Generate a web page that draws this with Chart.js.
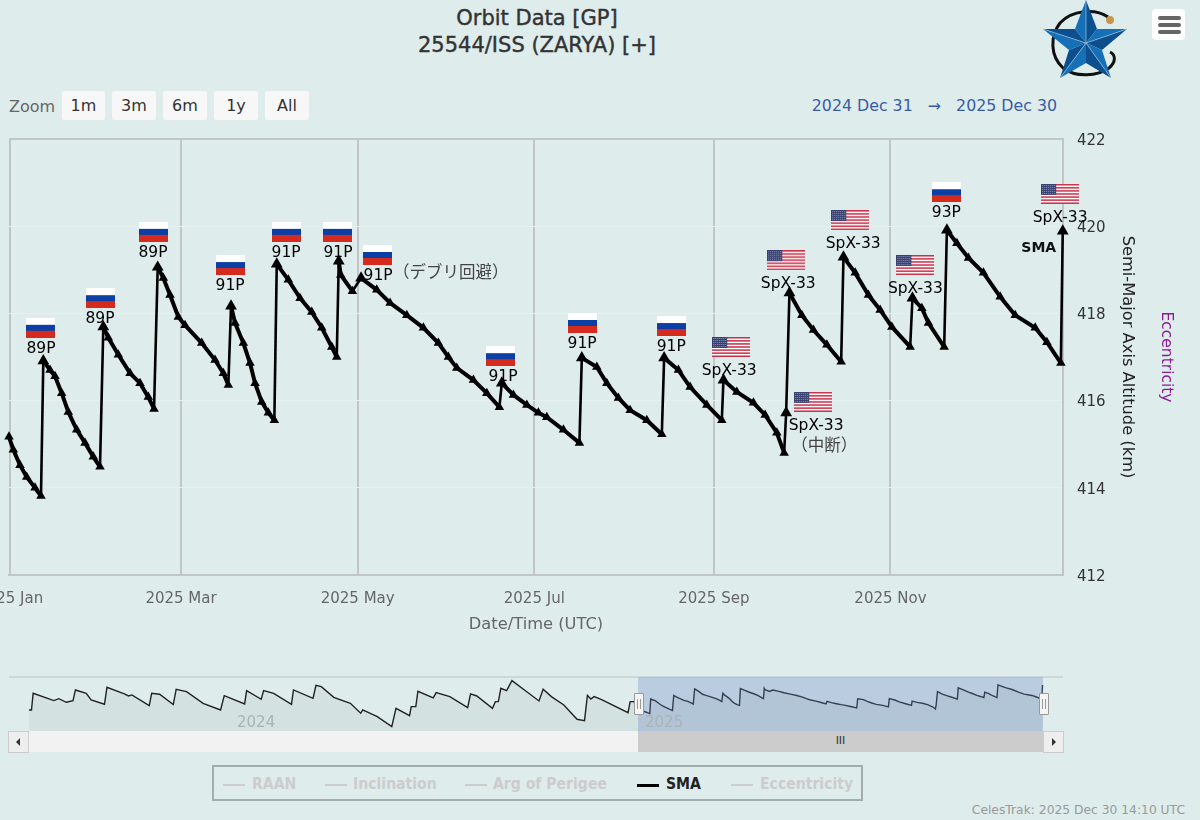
<!DOCTYPE html>
<html>
<head>
<meta charset="utf-8">
<title>Orbit Data</title>
<script src="https://cdn.jsdelivr.net/npm/chart.js@4/dist/chart.umd.min.js"></script>
<style>
  html, body { margin: 0; padding: 0; background: #deecec; }
  body { position: relative; width: 1200px; height: 820px; overflow: hidden; font-family: "DejaVu Sans", sans-serif; }
  .abs { position: absolute; }
  canvas { position: absolute; display: block; }
  #titleBox { left: 237px; width: 600px; top: 5px; text-align: center; color: #333; font-size: 21px; line-height: 27px; -webkit-text-stroke: 0.4px #333; }
  #zoomLabel { left: 9px; top: 97px; color: #666; font-size: 16px; }
  .btn { position: absolute; top: 91px; height: 29px; line-height: 29px; background: #f7f7f7; border-radius: 2px; text-align: center; color: #333; font-size: 16px; }
  #range { right: 143px; top: 96px; color: #3a5ba6; font-size: 15.8px; white-space: pre; }
  #menu { left: 1152px; top: 9px; width: 33px; height: 31px; background: #fff; border-radius: 4px; }
  #menu i { position: absolute; left: 6px; width: 23px; height: 4px; background: #666; border-radius: 2px; }
  .navyear { position: absolute; top: 713px; color: #a9b4b6; font-size: 15px; }
  #navTop { left: 9px; top: 676px; width: 1054px; height: 2px; background: #cdd8d8; }
  #navMask { left: 638px; top: 677px; width: 405px; height: 54px; background: rgba(102,133,194,0.3); }
  .handle { position: absolute; top: 693px; width: 8px; height: 20px; background: #f4f4f4; border: 1px solid #999; border-radius: 1px; }
  .handle i { position: absolute; top: 5px; width: 1px; height: 10px; background: #999; }
  #scrollTrack { left: 28px; top: 731px; width: 610px; height: 21px; background: #f2f2f2; }
  #scrollThumb { left: 638px; top: 731px; width: 405px; height: 21px; background: #cccccc; text-align: center; line-height: 20px; font-size: 11px; color: #333; }
  .scrollBtn { position: absolute; top: 731px; width: 19px; height: 20px; background: #eeeeee; border: 1px solid #ccc; }
  .scrollBtn i { position: absolute; top: 6px; width: 0; height: 0; border-top: 4px solid transparent; border-bottom: 4px solid transparent; }
  #legendBox { left: 212px; top: 765px; width: 647px; height: 32px; border: 2px solid #a3adad; }
  .lgLine { position: absolute; top: 784px; width: 22px; height: 2px; background: #cccccc; }
  .lgText { position: absolute; top: 775px; color: #cccccc; font-size: 15.6px; font-weight: bold; font-family: "DejaVu Sans Condensed", "DejaVu Sans", sans-serif; white-space: pre; }
  #credit { right: 15px; top: 803px; color: #999; font-size: 12.3px; }
</style>
</head>
<body>
<div id="titleBox" class="abs">Orbit Data [GP]<br>25544/ISS (ZARYA) [+]</div>

<svg class="abs" style="left:1040px;top:0" width="92" height="82" viewBox="1040 0 92 82">
  <path d="M1108 17 C1095 8 1072 10 1060 23 C1050 36 1050 56 1063 68 C1076 78 1098 76 1109 68 C1116 62 1116 55 1110 52" fill="none" stroke="#111" stroke-width="3"/>
  <circle cx="1110" cy="20" r="4" fill="#c9964f"/>
  <polygon points="1086,0 1086,43 1075,29" fill="#1670b8"/><polygon points="1086,0 1086,43 1097,29" fill="#0b4f8f"/>
  <polygon points="1127,29 1086,43 1097,29" fill="#1670b8"/><polygon points="1127,29 1086,43 1102,50" fill="#0b4f8f"/>
  <polygon points="1111,78 1086,43 1102,50" fill="#1670b8"/><polygon points="1111,78 1086,43 1086,63" fill="#0b4f8f"/>
  <polygon points="1060,78 1086,43 1086,63" fill="#1670b8"/><polygon points="1060,78 1086,43 1069,50" fill="#0b4f8f"/>
  <polygon points="1043,29 1086,43 1069,50" fill="#1670b8"/><polygon points="1043,29 1086,43 1075,29" fill="#0b4f8f"/>
  <path d="M1086 43 L1127 29 M1086 43 L1111 78 M1086 43 L1060 78 M1086 43 L1043 29 M1086 43 L1086 0" stroke="#9cc3de" stroke-width="0.7"/>
</svg>
<div id="menu" class="abs"><i style="top:7px"></i><i style="top:14px"></i><i style="top:21px"></i></div>

<div id="zoomLabel" class="abs">Zoom</div>
<div class="btn" style="left:62px;width:43px">1m</div>
<div class="btn" style="left:112px;width:44px">3m</div>
<div class="btn" style="left:163px;width:44px">6m</div>
<div class="btn" style="left:214px;width:44px">1y</div>
<div class="btn" style="left:265px;width:44px">All</div>
<div id="range" class="abs">2024 Dec 31   →   2025 Dec 30</div>

<canvas id="mainChart" width="1200" height="640" style="left:0;top:0"></canvas>

<div id="navTop" class="abs"></div>
<canvas id="navChart" width="1054" height="54" style="left:9px;top:677px"></canvas>
<div id="navMask" class="abs"></div>
<div class="navyear" style="left:237px">2024</div>
<div class="navyear" style="left:645px">2025</div>
<div class="handle" style="left:634px"><i style="left:2px"></i><i style="left:5px"></i></div>
<div class="handle" style="left:1039px"><i style="left:2px"></i><i style="left:5px"></i></div>
<div id="scrollTrack" class="abs"></div>
<div id="scrollThumb" class="abs">III</div>
<div class="scrollBtn" style="left:8px"><i style="left:7px;border-right:4px solid #333"></i></div>
<div class="scrollBtn" style="left:1043px"><i style="left:8px;border-left:4px solid #333"></i></div>

<div id="legendBox" class="abs"></div>
<div class="lgLine" style="left:223px"></div><div class="lgText" style="left:252px">RAAN</div>
<div class="lgLine" style="left:325px"></div><div class="lgText" style="left:353px">Inclination</div>
<div class="lgLine" style="left:465px"></div><div class="lgText" style="left:493px">Arg of Perigee</div>
<div class="lgLine" style="left:637px;background:#000;height:3px"></div><div class="lgText" style="left:666px;color:#222">SMA</div>
<div class="lgLine" style="left:731px"></div><div class="lgText" style="left:760px">Eccentricity</div>
<div id="credit" class="abs">CelesTrak: 2025 Dec 30 14:10 UTC</div>

<script>
// days since 2025 Jan 1 / SMA altitude in km
var smaDays = [-0.41, 1.08, 3.39, 5.7, 8.57, 10.64, 11.44, 13.75, 15.48, 17.79, 20.07, 22.97, 25.84, 28.71, 31.02, 32.16, 33.89, 37.34, 41.39, 44.84, 47.71, 49.68, 50.95, 52.89, 55.2, 58.07, 60.38, 66.15, 70.75, 73.61, 75.34, 76.27, 77.65, 80.52, 82.83, 84.56, 86.88, 89.16, 91.23, 92.06, 96.06, 100.11, 104.15, 107.6, 111.06, 112.78, 113.47, 114.17, 118.17, 121.18, 126.6, 131.2, 136.96, 142.7, 147.88, 151.33, 154.23, 159.97, 164.6, 168.95, 169.78, 173.79, 178.42, 182.42, 185.32, 191.06, 196.58, 197.41, 202.59, 206.04, 210.05, 214.09, 219.86, 225.04, 225.84, 230.77, 234.82, 240.58, 245.76, 246.32, 250.95, 256.68, 260.72, 264.76, 267.29, 267.98, 269.12, 273.4, 277.41, 282.04, 286.98, 287.77, 291.82, 296.4, 300.45, 304.49, 310.81, 311.6, 314.85, 317.13, 322.56, 323.49, 326.94, 330.95, 336.12, 341.89, 347.08, 353.99, 358.03, 362.86, 363.5];
var smaKm = [415.17, 414.87, 414.52, 414.25, 414, 413.81, 416.91, 416.7, 416.56, 416.17, 415.74, 415.33, 415.03, 414.71, 414.48, 417.69, 417.44, 417.05, 416.63, 416.4, 416.08, 415.81, 419.06, 418.81, 418.42, 417.92, 417.73, 417.32, 416.93, 416.63, 416.36, 418.17, 417.78, 417.32, 416.86, 416.4, 415.97, 415.72, 415.55, 419.13, 418.77, 418.35, 418.03, 417.67, 417.23, 417, 419.2, 418.88, 418.51, 418.81, 418.54, 418.24, 417.96, 417.67, 417.32, 417, 416.75, 416.47, 416.17, 415.85, 416.4, 416.13, 415.9, 415.72, 415.62, 415.33, 415.03, 416.98, 416.77, 416.4, 416.06, 415.78, 415.55, 415.23, 416.98, 416.7, 416.31, 415.9, 415.55, 416.47, 416.2, 415.95, 415.67, 415.26, 414.8, 415.72, 418.47, 417.96, 417.62, 417.28, 416.89, 419.29, 418.93, 418.42, 418.08, 417.69, 417.23, 418.35, 418.12, 417.78, 417.23, 419.91, 419.61, 419.27, 418.93, 418.38, 417.96, 417.67, 417.34, 416.86, 419.89];

// older part of the navigator series, before 2025
var historyDays = [-547.1, -544.9, -543.4, -524.8, -520.3, -513.6, -507.6, -505.4, -495.7, -491.3, -479.3, -477.1, -461.5, -457.7, -454.7, -439.1, -436.9, -429.8, -417.5, -414.9, -405.6, -390.7, -375, -371.7, -353.4, -351.6, -338.5, -336.3, -327.3, -311.3, -309.5, -291.9, -289.3, -284.5, -273.3, -258.4, -249.1, -247.3, -234.2, -221.2, -217.4, -205.2, -203.7, -199.6, -197.7, -183.9, -181.3, -169, -153, -150.4, -144.8, -130.7, -128.1, -125.4, -123.2, -118, -113.2, -102, -88.9, -85.2, -77.8, -66.6, -54.7, -48, -45.4, -42.4, -39.4, -33.1, -8.9, -7, -3.3, -1.4];
var historyKm = [414.58, 414.58, 418.13, 416.57, 416.99, 416.22, 416.57, 418.84, 418.13, 416.71, 415.79, 419.41, 417.99, 417.56, 417.78, 415.51, 418.13, 417.92, 415.72, 418.98, 418.48, 416, 414.58, 417.63, 415.86, 418.7, 416.85, 418.7, 418.13, 415.79, 418.84, 417.07, 419.83, 419.55, 417.28, 416, 413.88, 414.58, 413.17, 411.04, 414.94, 413.38, 415.29, 415.29, 418.56, 417.14, 418.27, 417.42, 415.08, 417.99, 417.56, 414.94, 416.36, 416.36, 419.19, 418.7, 420.82, 418.84, 416.5, 418.98, 417.42, 415.65, 412.6, 412.32, 417.7, 416.92, 417.42, 416.85, 414.02, 416.36, 416.36, 414.23];

var tickDays = [0, 59, 120, 181, 243, 304];
var tickLabels = ['2025 Jan', '2025 Mar', '2025 May', '2025 Jul', '2025 Sep', '2025 Nov'];

var flagDays = [10.64, 31.02, 49.33, 75.93, 95.27, 113.2, 126.7, 169.5, 197.5, 228.3, 249, 268, 277.3, 290.1, 312.6, 323.3, 362.6];
var flagKm = [417.67, 418.35, 419.87, 419.11, 419.87, 419.87, 419.34, 417.02, 417.78, 417.71, 417.23, 419.22, 415.97, 420.14, 419.11, 420.78, 420.74];
var flagNations = ['ru', 'ru', 'ru', 'ru', 'ru', 'ru', 'ru', 'ru', 'ru', 'ru', 'us', 'us', 'us', 'us', 'us', 'ru', 'us'];
var flagLabels = ['89P', '89P', '89P', '91P', '91P', '91P', '91P', '91P', '91P', '91P', 'SpX-33', 'SpX-33', 'SpX-33', 'SpX-33', 'SpX-33', '93P', 'SpX-33'];
var flagNotes = { 6: '（デブリ回避）', 12: '（中断）' };

var GRID = '#c0c6c6';
var FONT = '"DejaVu Sans", sans-serif';
// a few labels sit slightly off their flag
var labelNudge = { 6: 1, 7: 2, 10: -2, 11: 2, 12: 3, 13: 3 };

function makeFlag(nation) {
    var c = document.createElement('canvas');
    var g = c.getContext('2d');
    if (nation === 'ru') {
        c.width = 29; c.height = 20;
        g.fillStyle = '#ffffff'; g.fillRect(0, 0, 29, 7);
        g.fillStyle = '#0b3fa6'; g.fillRect(0, 7, 29, 6);
        g.fillStyle = '#d52b1e'; g.fillRect(0, 13, 29, 7);
    } else {
        c.width = 38; c.height = 20;
        g.fillStyle = '#ffffff'; g.fillRect(0, 0, 38, 20);
        g.fillStyle = '#c8324a';
        for (var i = 0; i < 13; i += 2) g.fillRect(0, i * 20 / 13, 38, 20 / 13);
        g.fillStyle = '#37406f'; g.fillRect(0, 0, 15, 11);
        g.fillStyle = '#8f97b5';
        for (var sx = 1; sx < 15; sx += 2) for (var sy = 1; sy < 11; sy += 2) g.fillRect(sx, sy, 1, 1);
    }
    return c;
}

// labels under each flag, plus the SMA series name near the last point
var flagText = {
    id: 'flagText',
    afterDatasetsDraw: function (chart) {
        var ctx = chart.ctx, x = chart.scales.x, y = chart.scales.y;
        ctx.save();
        ctx.textBaseline = 'middle';
        flagDays.forEach(function (d, i) {
            var px = x.getPixelForValue(d), py = y.getPixelForValue(flagKm[i]);
            var us = flagNations[i] === 'us';
            ctx.font = '15.5px ' + FONT;
            ctx.fillStyle = '#000';
            ctx.textAlign = 'center';
            ctx.fillText(flagLabels[i], px + (labelNudge[i] || 0), py + (us ? 24 : 21));
            var note = flagNotes[i];
            if (note) {
                ctx.fillStyle = '#444';
                ctx.font = '16.5px "Noto Sans CJK JP"';
                if (i === 6) { ctx.textAlign = 'left'; ctx.fillText(note, px + 16, py + 17); }
                else { ctx.fillText(note, px + 11, py + 43); }
            }
        });
        ctx.fillStyle = '#111';
        ctx.font = 'bold 14px ' + FONT;
        ctx.textAlign = 'center';
        ctx.fillText('SMA', x.getPixelForValue(smaDays[smaDays.length - 1]) - 24, y.getPixelForValue(smaKm[smaKm.length - 1]) + 17);
        ctx.restore();
    }
};

new Chart(document.getElementById('mainChart'), {
    data: {
        datasets: [
            {
                type: 'scatter', label: 'Flags',
                data: flagDays.map(function (d, i) { return { x: d, y: flagKm[i] }; }),
                pointStyle: flagNations.map(makeFlag), pointRadius: 10, clip: false, showLine: false
            },
            {
                type: 'line', label: 'SMA',
                data: smaDays.map(function (d, i) { return { x: d, y: smaKm[i] }; }),
                borderColor: '#000', backgroundColor: '#000', borderWidth: 4,
                segment: {
                    // reboosts are drawn thinner than the decay runs
                    borderWidth: function (c) { return c.p1.parsed.y - c.p0.parsed.y > 0.25 ? 2.6 : 4; }
                },
                pointStyle: 'triangle', tension: 0, clip: false,
                // only the tops of the reboosts show an arrow tip
                pointRadius: function (c) {
                    var i = c.dataIndex;
                    return i > 0 && smaKm[i] - smaKm[i - 1] > 0.25 ? 2.8 : 1.5;
                }
            }
        ]
    },
    options: {
        responsive: false, animation: false,
        layout: { autoPadding: false, padding: { left: 9, top: 139, right: 0, bottom: 0 } },
        plugins: { legend: { display: false }, tooltip: { enabled: false } },
        scales: {
            x: {
                type: 'linear', min: -0.41, max: 363.59,
                afterBuildTicks: function (s) { s.ticks = tickDays.map(function (v) { return { value: v }; }); },
                afterFit: function (s) { s.paddingLeft = 0; s.paddingRight = 0; s.height = 65; },
                ticks: {
                    autoSkip: false, maxRotation: 0, color: '#666', font: { family: FONT, size: 15 }, padding: 15,
                    callback: function (v, i) { return tickLabels[i]; }
                },
                grid: { color: GRID, lineWidth: 2, drawTicks: false },
                border: { display: true, color: GRID, width: 2 },
                title: { display: true, text: 'Date/Time (UTC)', color: '#666', font: { family: FONT, size: 16.3 }, padding: { top: 0, bottom: 5 } }
            },
            y: {
                position: 'right', min: 412, max: 422,
                afterFit: function (s) { s.width = 82; },
                ticks: { stepSize: 2, color: '#333', font: { family: FONT, size: 15 }, padding: 14, labelOffset: 2 },
                grid: {
                    drawTicks: false,
                    lineWidth: function (c) { return (c.tick.value === 412 || c.tick.value === 422) ? 2 : 1; },
                    color: function (c) { return (c.tick.value === 412 || c.tick.value === 422) ? GRID : '#e6f0ef'; }
                },
                border: { display: true, color: GRID, width: 2 },
                title: { display: true, text: 'Semi-Major Axis Altitude (km)', color: '#222', font: { family: FONT, size: 16.3 }, padding: { top: 8, bottom: 0 } }
            },
            ecc: {
                position: 'right', min: 0, max: 1,
                afterFit: function (s) { s.width = 55; },
                ticks: { display: false },
                grid: { display: false },
                border: { display: false },
                title: { display: true, text: 'Eccentricity', color: '#8b1a96', font: { family: FONT, size: 15.5 }, padding: { top: 25, bottom: 0 } }
            }
        }
    },
    plugins: [flagText]
});

new Chart(document.getElementById('navChart'), {
    type: 'line',
    data: {
        datasets: [{
            label: 'SMA navigator',
            data: historyDays.concat(smaDays).map(function (d, i) {
                return { x: d, y: historyKm.concat(smaKm)[i] };
            }),
            borderColor: '#222', backgroundColor: '#d3e1e0', borderWidth: 1.4,
            pointRadius: 0, tension: 0, fill: 'start'
        }]
    },
    options: {
        responsive: false, animation: false,
        layout: { autoPadding: false },
        plugins: { legend: { display: false }, tooltip: { enabled: false } },
        scales: {
            x: { type: 'linear', display: false, min: -565.1, max: 381.9 },
            y: { display: false, min: 410.1, max: 421.6 }
        }
    }
});
</script>
</body>
</html>
